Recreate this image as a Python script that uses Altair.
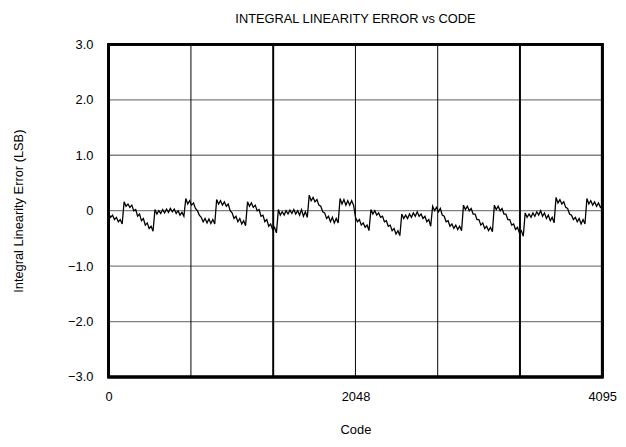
import altair as alt
import pandas as pd

# INL values, every 16 codes (0..4080) plus code 4095
seg_start = [-0.05, -0.12, -0.08, -0.16, -0.12, -0.20, -0.16, -0.24]                      # 0-112
seg01 = [0.16, 0.08, 0.12, 0.06, 0.10, 0.00, 0.02, -0.10, -0.06, -0.18, -0.14, -0.26, -0.22, -0.32, -0.28, -0.37]
seg02 = [0.02, -0.06, 0.00, -0.05, 0.02, -0.04, 0.03, -0.03, 0.04, -0.02, 0.03, -0.05, 0.00, -0.08, -0.03, -0.10]
seg03 = [0.22, 0.12, 0.18, 0.10, 0.14, 0.04, 0.00, -0.08, -0.12, -0.20, -0.14, -0.22, -0.15, -0.23, -0.16, -0.24]
seg04 = [0.20, 0.12, 0.18, 0.10, 0.16, 0.08, 0.12, 0.00, -0.04, -0.14, -0.10, -0.20, -0.14, -0.24, -0.18, -0.27]
seg05 = [0.16, 0.08, 0.14, 0.06, 0.10, 0.00, 0.02, -0.10, -0.08, -0.20, -0.16, -0.28, -0.24, -0.34, -0.30, -0.40]
seg06 = [0.02, -0.08, -0.02, -0.08, 0.00, -0.06, 0.01, -0.05, 0.02, -0.06, 0.00, -0.08, 0.02, -0.10, -0.02, -0.12]
seg07 = [0.28, 0.18, 0.24, 0.16, 0.20, 0.10, 0.08, -0.02, -0.04, -0.14, -0.10, -0.20, -0.12, -0.22, -0.14, -0.22]
seg08 = [0.22, 0.12, 0.20, 0.10, 0.18, 0.10, 0.18, 0.10, -0.12, -0.20, -0.16, -0.26, -0.22, -0.30, -0.26, -0.36]
seg09 = [0.02, -0.06, 0.00, -0.08, -0.04, -0.12, -0.10, -0.20, -0.18, -0.28, -0.26, -0.36, -0.32, -0.42, -0.36, -0.45]
seg10 = [-0.06, -0.14, -0.08, -0.14, -0.06, -0.12, -0.04, -0.10, -0.02, -0.10, -0.06, -0.14, -0.10, -0.20, -0.16, -0.28]
seg11 = [0.08, 0.00, 0.06, -0.02, 0.04, -0.08, -0.10, -0.20, -0.18, -0.28, -0.24, -0.32, -0.26, -0.34, -0.28, -0.36]
seg12 = [0.10, 0.02, 0.08, 0.00, 0.04, -0.06, -0.06, -0.16, -0.16, -0.26, -0.22, -0.32, -0.28, -0.36, -0.30, -0.38]
seg13 = [0.10, 0.02, 0.08, 0.00, 0.04, -0.06, -0.06, -0.16, -0.16, -0.26, -0.24, -0.34, -0.30, -0.40, -0.36, -0.46]
seg14 = [-0.04, -0.12, -0.06, -0.12, -0.04, -0.10, -0.02, -0.08, 0.00, -0.10, -0.04, -0.14, -0.08, -0.18, -0.12, -0.22]
seg15 = [0.24, 0.14, 0.20, 0.12, 0.16, 0.06, 0.04, -0.06, -0.08, -0.16, -0.12, -0.20, -0.14, -0.24, -0.16, -0.24]
seg_end = [0.22, 0.12, 0.18, 0.10, 0.16, 0.08, 0.14, 0.06, 0.10]                         # 3968-4080, 4095

inl = (seg_start + seg01 + seg02 + seg03 + seg04 + seg05 + seg06 + seg07 + seg08
       + seg09 + seg10 + seg11 + seg12 + seg13 + seg14 + seg15 + seg_end)
codes = list(range(0, 4096, 16)) + [4095]

# vertical divider lines
vline_codes = [682.5, 1365, 2047.5, 2730, 3412.5]
vline_widths = [1, 2, 1, 1, 2]

# horizontal grid lines
hgrid = [-2, -1, 0, 1, 2]

x_ticks = [0, 2048, 4095]
y_ticks = [-3, -2, -1, 0, 1, 2, 3]

W, H = 500, 337

df = pd.DataFrame({"code": codes, "inl": inl})
vl = pd.DataFrame({"code": vline_codes, "w": vline_widths})
hg = pd.DataFrame({"v": hgrid})

xscale = alt.Scale(domain=[0, 4095], nice=False, zero=False)
yscale = alt.Scale(domain=[-3, 3], nice=False)

font = "Liberation Sans"

hrules = alt.Chart(hg).mark_rule(color="#808080", strokeWidth=1.3).encode(
    y=alt.Y("v:Q", scale=yscale),
)

vrules = alt.Chart(vl).mark_rule(color="black").encode(
    x=alt.X("code:Q", scale=xscale),
    strokeWidth=alt.StrokeWidth("w:Q", scale=None, legend=None),
)

line = alt.Chart(df).mark_line(color="black", strokeWidth=1.3).encode(
    x=alt.X("code:Q", scale=xscale,
            axis=alt.Axis(values=x_ticks, title="Code", grid=False, ticks=False, domain=False,
                          format="d",
                          labelPadding=14, labelFontSize=13, titleFontSize=13, titlePadding=20,
                          labelFont=font, titleFont=font, titleFontWeight="normal",
                          labelColor="black", titleColor="black", labelFlush=False)),
    y=alt.Y("inl:Q", scale=yscale,
            axis=alt.Axis(values=y_ticks, title="Integral Linearity Error (LSB)", grid=False,
                          ticks=False, domain=False,
                          labelPadding=16, labelFontSize=13, titleFontSize=13, titlePadding=43,
                          labelFont=font, titleFont=font, titleFontWeight="normal",
                          labelColor="black", titleColor="black",
                          labelExpr="datum.value == 0 ? '0' : format(datum.value, '.1f')")),
)

frame = alt.Chart(hg).mark_rect(fill=None, stroke="black", strokeWidth=2.5).encode(
    x=alt.value(0), x2=alt.value(W), y=alt.value(0), y2=alt.value(H),
)

chart = alt.layer(hrules, vrules, line, frame).properties(
    width=W, height=H,
    title=alt.TitleParams("INTEGRAL LINEARITY ERROR vs CODE", font=font, fontSize=13,
                          fontWeight="normal", color="black", offset=13, anchor="middle"),
    padding={"left": 102, "top": 34, "right": 16, "bottom": 64},
    autosize=alt.AutoSizeParams(type="none"),
).configure_view(stroke=None).configure(background="white")

chart.save("out.html", embed_options={"renderer": "svg", "actions": False})
